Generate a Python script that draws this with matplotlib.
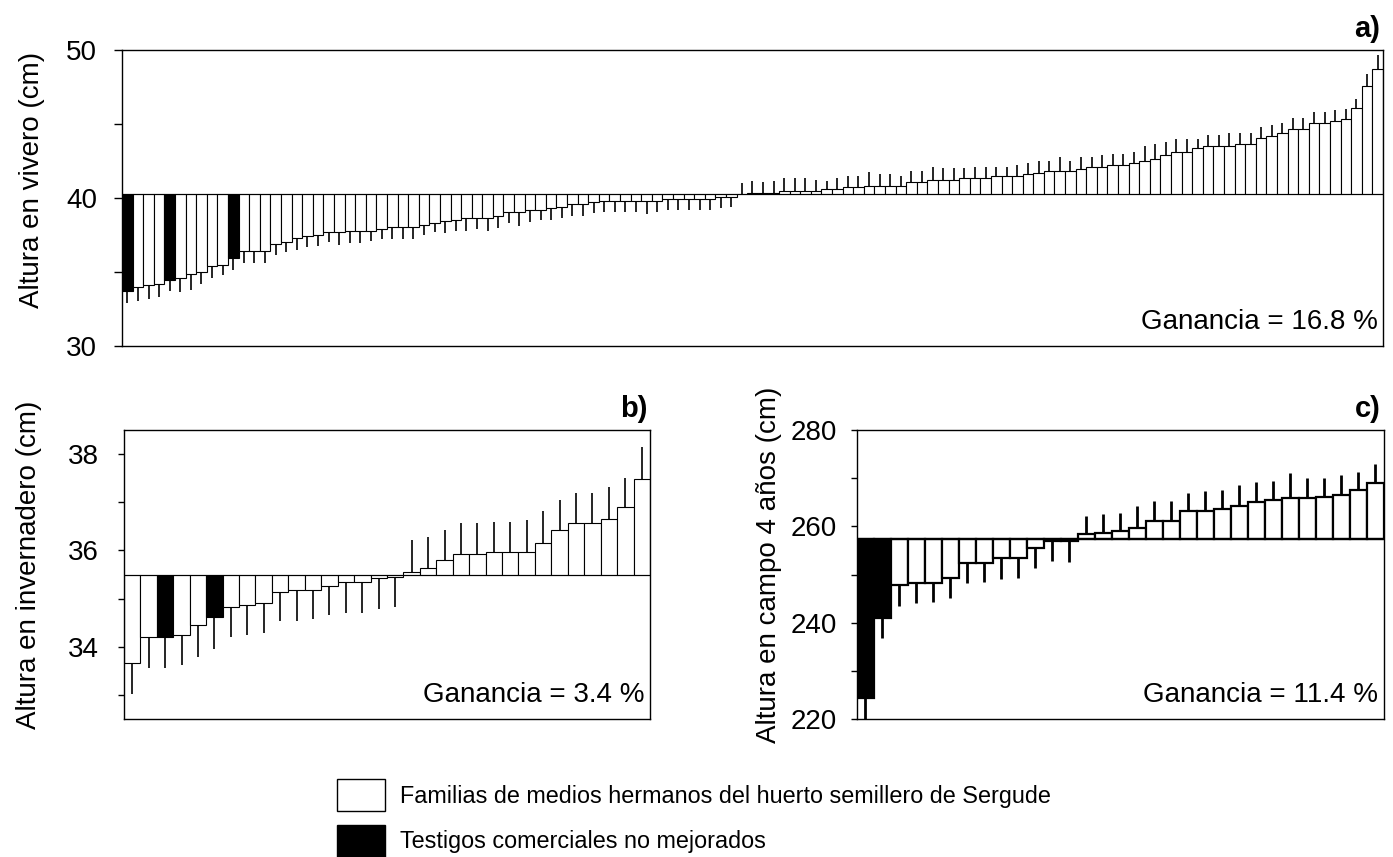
import matplotlib
matplotlib.use("Agg")
import matplotlib.pyplot as plt
from matplotlib.patches import Patch
import numpy as np

plt.rcParams['font.family'] = ['Liberation Sans', 'DejaVu Sans']
plt.rcParams['font.size'] = 20

# a) altura en vivero (cm), familias ordenadas
a_vals = [33.71, 34.00, 34.09, 34.22, 34.44, 34.60, 34.84, 35.00, 35.38, 35.47,
          35.96, 36.40, 36.40, 36.40, 36.89, 37.00, 37.27, 37.42, 37.53, 37.69,
          37.69, 37.78, 37.78, 37.78, 37.93, 38.04, 38.04, 38.04, 38.16, 38.29,
          38.42, 38.53, 38.67, 38.67, 38.67, 38.80, 39.07, 39.07, 39.18, 39.18,
          39.31, 39.42, 39.56, 39.58, 39.71, 39.82, 39.82, 39.82, 39.82, 39.82,
          39.82, 39.93, 39.93, 39.93, 39.93, 39.93, 40.07, 40.07, 40.27, 40.34,
          40.34, 40.34, 40.44, 40.44, 40.44, 40.44, 40.58, 40.58, 40.71, 40.71,
          40.84, 40.84, 40.84, 40.84, 41.09, 41.09, 41.22, 41.22, 41.22, 41.36,
          41.36, 41.36, 41.49, 41.49, 41.49, 41.60, 41.72, 41.85, 41.85, 41.85,
          41.98, 42.11, 42.11, 42.22, 42.22, 42.36, 42.49, 42.62, 42.87, 43.11,
          43.11, 43.38, 43.51, 43.51, 43.51, 43.64, 43.64, 44.02, 44.16, 44.40,
          44.67, 44.67, 45.04, 45.04, 45.18, 45.31, 46.07, 47.58, 48.71]
a_err = [0.78, 0.96, 0.93, 0.93, 0.73, 0.93, 1.07, 0.78, 0.82, 0.67,
         0.80, 0.80, 0.80, 0.80, 0.71, 0.67, 0.78, 0.71, 0.80, 0.67,
         0.84, 0.80, 0.80, 0.67, 0.71, 0.82, 0.82, 0.82,
         0.64, 0.62, 0.76, 0.76, 0.93, 0.78, 0.89, 0.80, 0.78, 0.96,
         0.80, 0.67, 0.80, 0.80, 0.78, 0.80, 0.71, 0.78, 0.78, 0.78,
         0.78, 0.89, 0.78, 0.76, 0.76, 0.76, 0.76, 0.76, 0.78, 0.67,
         0.73, 0.80, 0.76, 0.80, 0.89, 0.89, 0.89, 0.78, 0.60, 0.76,
         0.76, 0.76, 0.89, 0.76, 0.76, 0.62, 0.76, 0.76, 0.89, 0.78,
         0.78, 0.64, 0.76, 0.76, 0.62, 0.62, 0.73, 0.78,
         0.78, 0.67, 0.91, 0.67, 0.78, 0.64, 0.78, 0.78, 0.78, 0.76,
         1.02, 1.04, 0.91, 0.89, 0.89, 0.62, 0.76, 0.76, 0.89, 0.76,
         0.76, 0.76, 0.78, 0.64, 0.76, 0.76, 0.78, 0.78, 0.78, 0.73,
         0.60, 0.80, 0.96]
a_testigos = [0, 4, 10]
a_mean = 40.25

# b) altura en invernadero (cm)
b_vals = [33.67, 34.20, 34.20, 34.24, 34.45, 34.61, 34.82, 34.86, 34.90, 35.14,
          35.18, 35.18, 35.27, 35.35, 35.35, 35.43, 35.44, 35.55, 35.64, 35.80,
          35.92, 35.92, 35.97, 35.97, 35.97, 36.16, 36.42, 36.58, 36.58, 36.66,
          36.91, 37.49]
b_err = [0.65, 0.65, 0.65, 0.61, 0.66, 0.65, 0.62, 0.61, 0.62, 0.61,
         0.65, 0.61, 0.61, 0.64, 0.64, 0.65, 0.61, 0.67, 0.64, 0.62,
         0.66, 0.66, 0.62, 0.62, 0.66, 0.66, 0.62, 0.62, 0.62, 0.66,
         0.60, 0.66]
b_testigos = [2, 5]
b_mean = 35.48

# c) altura en campo 4 años (cm)
c_vals = [224.3, 240.9, 247.8, 248.3, 248.3, 249.2, 252.3, 252.3, 253.4, 253.4,
          255.5, 256.9, 256.9, 258.4, 258.7, 259.1, 259.7, 261.2, 261.2, 263.2,
          263.2, 263.7, 264.3, 265.0, 265.4, 265.9, 265.9, 266.2, 266.6, 267.6,
          269.1]
c_err = [4.5, 4.0, 4.34, 4.14, 3.93, 4.14, 4.14, 3.8, 4.28, 4.07,
         4.14, 4.14, 4.34, 3.8, 3.86, 3.66, 4.48, 4.14, 4.14, 3.72,
         4.07, 3.93, 4.2, 4.14, 4.07, 5.1, 4.2, 3.93, 4.14, 3.66,
         3.8]
c_testigos = [0, 1]
c_mean = 257.45


def panel(ax, vals, err, testigos, mean, lw, elw):
    vals = np.array(vals)
    err = np.array(err)
    x = np.arange(len(vals))
    colors = ['black' if i in testigos else 'white' for i in x]
    ax.bar(x, vals - mean, bottom=mean, width=1.0, color=colors,
           edgecolor='black', linewidth=lw, zorder=2)
    sign = np.where(vals >= mean, 1, -1)
    ax.vlines(x, vals, vals + sign * err, color='black', linewidth=elw, zorder=1)
    ax.axhline(mean, color='black', linewidth=lw, zorder=3)
    ax.set_xlim(-0.5, len(vals) - 0.5)
    ax.set_xticks([])
    for s in ax.spines.values():
        s.set_linewidth(1)


fig = plt.figure(figsize=(13.93, 8.57), dpi=100)

ax_a = fig.add_axes([0.0876, 0.5963, 0.9052, 0.3454])
panel(ax_a, a_vals, a_err, a_testigos, a_mean, 0.8, 1.2)
ax_a.set_ylim(30, 50)
ax_a.set_yticks([30, 35, 40, 45, 50])
ax_a.set_yticklabels(['30', '', '40', '', '50'])
ax_a.tick_params(axis='y', direction='out', length=6, width=1, pad=12)
ax_a.set_ylabel('Altura en vivero (cm)')
ax_a.yaxis.set_label_coords(-0.061, 0.56)

ax_b = fig.add_axes([0.089, 0.161, 0.3776, 0.3372])
panel(ax_b, b_vals, b_err, b_testigos, b_mean, 0.8, 1.2)
ax_b.set_ylim(32.5, 38.5)
ax_b.set_yticks([33, 34, 35, 36, 37, 38])
ax_b.set_yticklabels(['', '34', '', '36', '', '38'])
ax_b.tick_params(axis='y', direction='out', length=4, width=1, pad=14)
ax_b.set_ylabel('Altura en invernadero (cm)')
ax_b.yaxis.set_label_coords(-0.156, 0.533)

ax_c = fig.add_axes([0.615, 0.161, 0.3785, 0.3372])
panel(ax_c, c_vals, c_err, c_testigos, c_mean, 1.6, 2.0)
ax_c.set_ylim(220, 280)
ax_c.set_yticks([220, 230, 240, 250, 260, 270, 280])
ax_c.set_yticklabels(['220', '', '240', '', '260', '', '280'])
ax_c.tick_params(axis='y', direction='out', length=4, width=1, pad=10)
ax_c.set_ylabel('Altura en campo 4 años (cm)')
ax_c.yaxis.set_label_coords(-0.142, 0.533)

for ax, tag, gain in [(ax_a, 'a)', '16.8'), (ax_b, 'b)', '3.4'), (ax_c, 'c)', '11.4')]:
    ax.annotate(tag, xy=(1, 1), xycoords='axes fraction', xytext=(-2, 5),
                textcoords='offset points', ha='right', va='bottom',
                fontweight='bold', fontsize=21)
    ax.annotate('Ganancia = ' + gain + ' %', xy=(1, 0), xycoords='axes fraction',
                xytext=(-4, 8), textcoords='offset points', ha='right', va='bottom',
                zorder=5)

handles = [Patch(facecolor='white', edgecolor='black', linewidth=1),
           Patch(facecolor='black', edgecolor='black', linewidth=1)]
labels = ['Familias de medios hermanos del huerto semillero de Sergude',
          'Testigos comerciales no mejorados']
fig.legend(handles, labels, loc='upper left',
           bbox_to_anchor=(337 / 1393, 1 - 779 / 857), frameon=False,
           handlelength=2.06, handleheight=1.73, handletextpad=0.64,
           labelspacing=0.6, borderpad=0, borderaxespad=0, fontsize=16.8)

fig.savefig('out.png', dpi=100)
plt.close(fig)
